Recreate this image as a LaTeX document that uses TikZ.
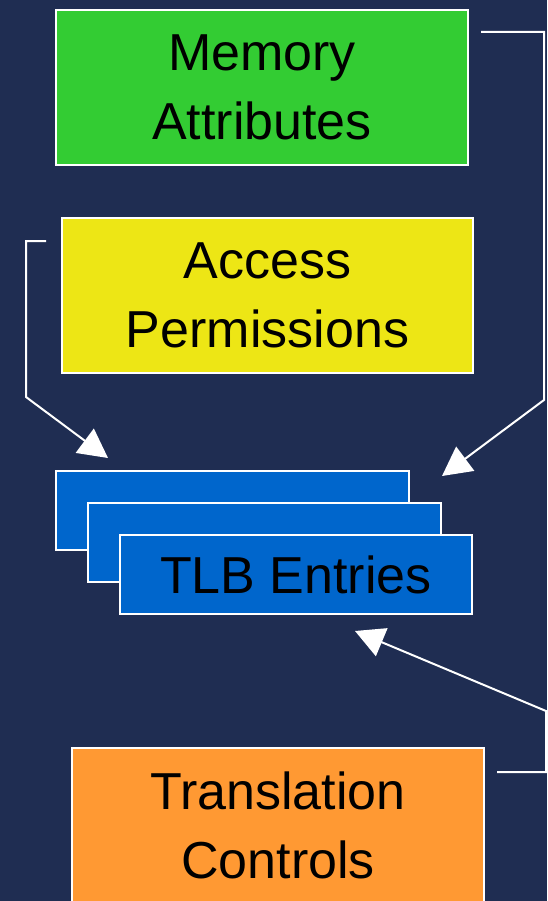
\documentclass[tikz,border=0pt]{standalone}
\usepackage{fontspec}
\setmainfont{Liberation Sans}
\usetikzlibrary{arrows.meta}
\definecolor{bgnavy}{RGB}{31,45,82}
\definecolor{memgreen}{RGB}{51,204,51}
\definecolor{permyellow}{RGB}{237,230,21}
\definecolor{tlbblue}{RGB}{0,102,204}
\definecolor{ctrlorange}{RGB}{255,153,51}
\tikzset{
  box/.style={draw=white, line width=2pt, inner sep=0pt, anchor=north west,
    font=\fontsize{52}{69}\selectfont, align=center, text=black},
  link/.style={draw=white, line width=2pt,
    -{Triangle[length=29pt,width=30pt]}},
}
\begin{document}
\begin{tikzpicture}[x=1pt,y=-1pt]
  \fill[bgnavy] (0,0) rectangle (547,901);
  \useasboundingbox (0,0) rectangle (547,901);

  % source blocks
  \node[box, fill=memgreen, minimum width=412pt, minimum height=155pt]
    (mem) at (55,9) {Memory\\Attributes};
  \node[box, fill=permyellow, minimum width=411pt, minimum height=155pt]
    (perm) at (61,217) {Access\\Permissions};
  \node[box, fill=ctrlorange, minimum width=412pt, minimum height=155pt]
    (ctrl) at (71,747) {Translation\\Controls};

  % stacked TLB entries
  \node[box, fill=tlbblue, minimum width=353pt, minimum height=79pt]
    (tlbc) at (55,470) {};
  \node[box, fill=tlbblue, minimum width=353pt, minimum height=79pt]
    (tlbb) at (87,502) {};
  \node[box, fill=tlbblue, minimum width=352pt, minimum height=79pt]
    (tlba) at (119,534) {TLB Entries};

  % connector end points
  \coordinate (memout) at (481,32);
  \coordinate (memtip) at (442,476);
  \coordinate (permout) at (46,241);
  \coordinate (permtip) at (108,458);
  \coordinate (ctrlout) at (497,772);
  \coordinate (ctrltip) at (355,631);

  \draw[link] (memout) -- (544,32) -- (544,400) -- (memtip);
  \draw[link] (permout) -- (26,241) -- (26,397) -- (permtip);
  \draw[link] (ctrlout) -- (546,772) -- (546,711) -- (ctrltip);
\end{tikzpicture}
\end{document}
